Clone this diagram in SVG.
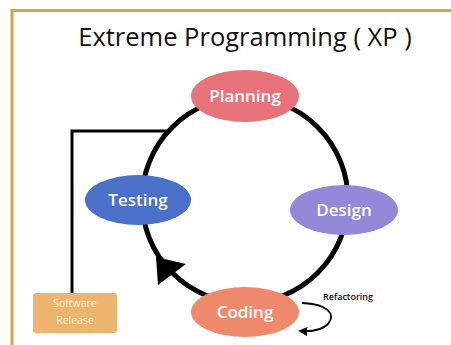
<svg xmlns="http://www.w3.org/2000/svg" width="451" height="345" viewBox="0 0 451 345">
  <style>
    .title { font-family: "Open Sans", "Liberation Sans", sans-serif; font-size: 25.5px; font-weight: 500; fill: #111; }
    .node-label { font-family: "Open Sans", "Liberation Sans", sans-serif; font-size: 17px; font-weight: 600; fill: #fff; text-anchor: middle; }
    .small { font-family: "Open Sans", "Liberation Sans", sans-serif; text-anchor: middle; }
    .cycle { fill: none; stroke: #000; stroke-width: 5; }
    .link { fill: none; stroke: #000; stroke-width: 3; }
  </style>
  <defs>
    <marker id="smallHead" viewBox="0 0 10 10" refX="8" refY="5" markerWidth="5" markerHeight="5" orient="auto">
      <path d="M0,0 L10,5 L0,10 z" fill="#000"/>
    </marker>
  </defs>

  <rect x="0" y="0" width="451" height="345" fill="#fff"/>
  <!-- frame -->
  <path d="M12,345 V10.5 H451" fill="none" stroke="#D8A23A" stroke-width="3"/>

  <text class="title" x="245" y="46" text-anchor="middle">Extreme Programming ( XP )</text>

  <g id="connectors">
    <!-- development cycle -->
    <circle class="cycle" cx="245" cy="200" r="103"/>
    <!-- direction arrowhead on the cycle -->
    <polygon points="156,257 186,264 158,285" fill="#000"/>
    <!-- path to release -->
    <path class="link" d="M168,131 H72 V293"/>
    <!-- refactoring loop -->
    <path d="M302,303 C328,304 336,314 328,324 C322,330 312,332 300,331" fill="none" stroke="#000" stroke-width="1.8" marker-end="url(#smallHead)"/>
  </g>

  <g id="planning">
    <ellipse cx="245" cy="96" rx="54" ry="26" fill="#E8727A"/>
    <text class="node-label" x="245" y="102">Planning</text>
  </g>
  <g id="testing">
    <ellipse cx="138" cy="200" rx="53" ry="25" fill="#4A70C9"/>
    <text class="node-label" x="138" y="206">Testing</text>
  </g>
  <g id="design">
    <ellipse cx="344" cy="210" rx="54" ry="25" fill="#9388D8"/>
    <text class="node-label" x="344" y="216">Design</text>
  </g>
  <g id="coding">
    <ellipse cx="245" cy="312" rx="54" ry="25" fill="#EE8A6B"/>
    <text class="node-label" x="245" y="318">Coding</text>
  </g>
  <g id="release">
    <rect x="33" y="293" width="84" height="40" rx="3" fill="#EDB46E"/>
    <text class="small" x="75" y="307" font-size="10.5" fill="#FBEBD6">Software</text>
    <text class="small" x="75" y="324" font-size="10.5" fill="#FBEBD6">Release</text>
  </g>
  <g id="refactoring">
    <text class="small" x="348" y="300" font-size="9" font-weight="600" fill="#111">Refactoring</text>
  </g>
</svg>
